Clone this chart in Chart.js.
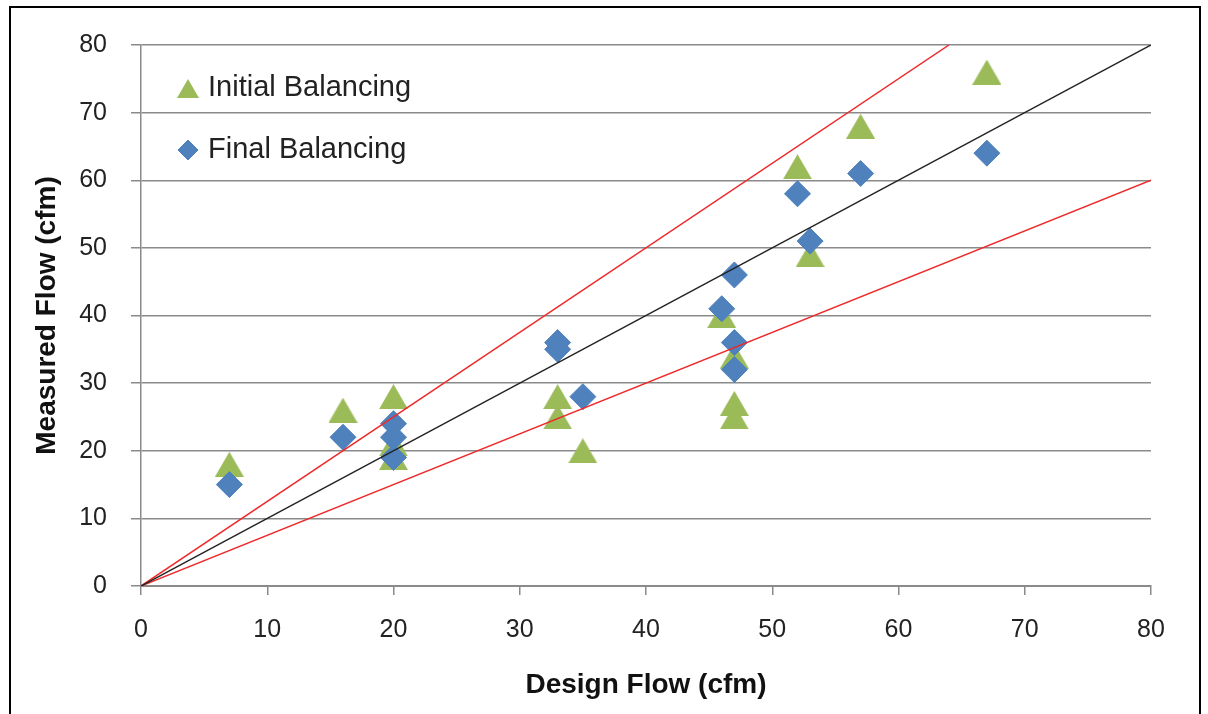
<!DOCTYPE html>
<html>
<head>
<meta charset="utf-8">
<script src="https://cdn.jsdelivr.net/npm/chart.js@4"></script>
<style>
  html, body { margin: 0; padding: 0; background: #fff; }
  #wrap { position: relative; width: 1208px; height: 714px; overflow: hidden; }
  #frame { position: absolute; left: 9px; top: 6px; width: 1188px; height: 720px;
           border: 2px solid #000; pointer-events: none; }
</style>
</head>
<body>
<div id="wrap">
  <canvas id="myChart" width="1208" height="714"></canvas>
  <div id="frame"></div>
</div>
<script>
// design flow vs measured flow (cfm)
const initialX = [7, 16, 20, 20, 20, 33, 33, 35, 46, 47, 47, 47, 52, 53, 57, 67];
const initialY = [18, 26, 28, 21, 19, 28, 25, 20, 40, 34, 27, 25, 62, 49, 68, 76];
const finalX = [7, 16, 20, 20, 20, 33, 33, 35, 46, 47, 47, 47, 52, 53, 57, 67];
const finalY = [15, 22, 24, 22, 19, 36, 35, 28, 41, 46, 36, 32, 58, 51, 61, 64];

// 1:1 line and +/-25% lines
const lineOneToOne = [[0, 0], [80, 80]];
const linePlus25 = [[0, 0], [64, 80]];
const lineMinus25 = [[0, 0], [80, 60]];

const xTicks = [0, 10, 20, 30, 40, 50, 60, 70, 80];
const yTicks = [0, 10, 20, 30, 40, 50, 60, 70, 80];

const toPoints = (xs, ys) => xs.map((x, i) => ({ x: x, y: ys[i] }));
const toLine = pts => pts.map(p => ({ x: p[0], y: p[1] }));

const green = '#9BBB59';
const blue = '#4F81BD';
const gridGray = '#8a8a8a';

// excel style triangle, centred on its box rather than its centroid
function triangleMarker(w, h, color) {
    const c = document.createElement('canvas');
    c.width = w;
    c.height = h;
    const g = c.getContext('2d');
    g.fillStyle = color;
    g.beginPath();
    g.moveTo(w / 2, 0);
    g.lineTo(w, h);
    g.lineTo(0, h);
    g.closePath();
    g.fill();
    return c;
}

const bigTriangle = triangleMarker(29, 25, green);
const smallTriangle = triangleMarker(22, 19, green);

const insideLegend = {
    id: 'insideLegend',
    afterDraw(chart) {
        const ctx = chart.ctx;
        const area = chart.chartArea;
        const x = area.left + 47;
        ctx.save();
        // triangle
        let y = area.top + 43;
        ctx.drawImage(smallTriangle, x - 11, y - 9);
        ctx.fillStyle = '#222';
        ctx.font = '29px "Liberation Sans"';
        ctx.textBaseline = 'middle';
        ctx.textAlign = 'left';
        ctx.fillText('Initial Balancing', x + 20, y);
        // diamond
        y = area.top + 105;
        ctx.fillStyle = blue;
        ctx.strokeStyle = blue;
        Chart.helpers.drawPoint(ctx, { pointStyle: 'rectRot', radius: 10, borderWidth: 1 }, x, y);
        ctx.fill();
        ctx.fillStyle = '#222';
        ctx.fillText('Final Balancing', x + 20, y);
        ctx.restore();
    }
};

const ctx = document.getElementById('myChart').getContext('2d');

const myChart = new Chart(ctx, {
    type: 'scatter',
    data: {
        datasets: [
            {
                label: '1:1',
                type: 'line',
                data: toLine(lineOneToOne),
                borderColor: '#222',
                borderWidth: 1.5,
                pointRadius: 0,
                fill: false,
                order: 0
            },
            {
                label: '+25%',
                type: 'line',
                data: toLine(linePlus25),
                borderColor: '#ee2a2a',
                borderWidth: 1.5,
                pointRadius: 0,
                fill: false,
                order: 0
            },
            {
                label: '-25%',
                type: 'line',
                data: toLine(lineMinus25),
                borderColor: '#ee2a2a',
                borderWidth: 1.5,
                pointRadius: 0,
                fill: false,
                order: 0
            },
            {
                label: 'Final Balancing',
                data: toPoints(finalX, finalY),
                pointStyle: 'rectRot',
                pointRadius: 13,
                pointHoverRadius: 13,
                backgroundColor: blue,
                borderColor: blue,
                borderWidth: 1,
                order: 1
            },
            {
                label: 'Initial Balancing',
                data: toPoints(initialX, initialY),
                pointStyle: bigTriangle,
                pointRadius: 16,
                pointHoverRadius: 16,
                backgroundColor: green,
                borderColor: green,
                order: 2
            }
        ]
    },
    options: {
        responsive: false,
        animation: false,
        devicePixelRatio: 1,
        layout: { padding: { left: 26, top: 45, right: 57, bottom: 8 } },
        plugins: {
            legend: { display: false },
            tooltip: { enabled: false }
        },
        scales: {
            x: {
                type: 'linear',
                min: 0,
                max: 80,
                afterBuildTicks: s => { s.ticks = xTicks.map(v => ({ value: v })); },
                afterFit: s => { s.height = 120; },
                ticks: {
                    color: '#222',
                    padding: 20,
                    font: { family: 'Liberation Sans', size: 25 }
                },
                grid: {
                    drawOnChartArea: false,
                    drawTicks: true,
                    tickLength: 9,
                    color: gridGray,
                    lineWidth: 1.5
                },
                border: { color: gridGray, width: 2 },
                title: {
                    display: true,
                    text: 'Design Flow (cfm)',
                    color: '#111',
                    font: { family: 'Liberation Sans', size: 28, weight: 'bold' }
                }
            },
            y: {
                type: 'linear',
                min: 0,
                max: 80,
                afterBuildTicks: s => { s.ticks = yTicks.map(v => ({ value: v })); },
                afterFit: s => { s.width = 115; },
                ticks: {
                    color: '#222',
                    padding: 24,
                    font: { family: 'Liberation Sans', size: 25 }
                },
                grid: {
                    tickLength: 10,
                    color: gridGray,
                    lineWidth: 1.5
                },
                border: { color: gridGray, width: 1.5 },
                title: {
                    display: true,
                    text: 'Measured Flow (cfm)',
                    color: '#111',
                    font: { family: 'Liberation Sans', size: 28, weight: 'bold' }
                }
            }
        }
    },
    plugins: [insideLegend]
});
</script>
</body>
</html>
